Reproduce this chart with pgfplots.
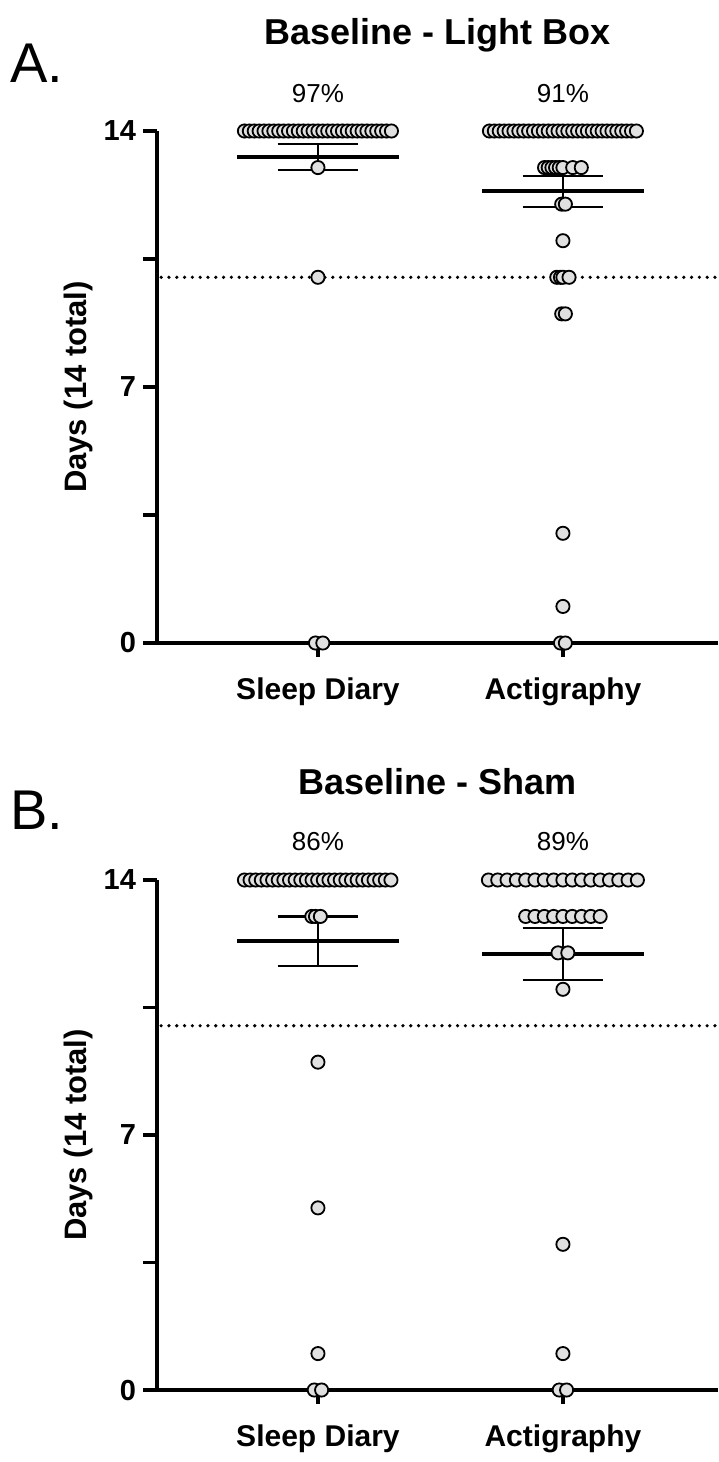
\documentclass[border=0pt]{standalone}
\usepackage{fontspec}
\setmainfont{Liberation Sans}
\usepackage{pgfplots}
\pgfplotsset{compat=1.18}
\definecolor{dotfill}{HTML}{E0E0E0}

\pgfplotsset{
  dotplot/.style={
    scale only axis, width=280.5pt,
    xmin=0.343, xmax=2.633, ymin=0, ymax=14,
    axis x line=bottom, axis y line=left,
    axis line style={-, line width=1.6pt},
    xtick={1,2}, xticklabels={Sleep Diary, Actigraphy},
    ytick={0,7,14}, minor ytick={3.5,10.5},
    tick align=outside, major tick length=7pt, minor tick length=7pt,
    every tick/.style={black, line width=1.6pt},
    yticklabel style={font=\bfseries\fontsize{14.5}{15}\selectfont},
    xticklabel style={font=\bfseries\fontsize{15}{16}\selectfont, yshift=-7pt},
    /pgf/number format/assume math mode=true,
    ylabel={Days (14 total)},
    ylabel style={font=\bfseries\fontsize{15.5}{16}\selectfont,
      at={(axis description cs:-0.14,0.5)}, anchor=center},
    clip=false,
  },
  pts/.style={only marks, mark=*, mark size=3.3pt,
    mark options={fill=dotfill, draw=black, line width=0.9pt}},
  meanline/.style={black, line width=1.8pt, no marks},
  semline/.style={black, line width=1.1pt, no marks, unbounded coords=jump},
  cutoff/.style={black, line width=1.8pt, line cap=round,
    dash pattern=on 0pt off 3.9pt, no marks},
}
\tikzset{
  ttl/.style={font=\bfseries\fontsize{18}{20}\selectfont, anchor=base},
  pct/.style={font=\fontsize{13}{15}\selectfont, anchor=base},
  panel/.style={font=\fontsize{28}{30}\selectfont, anchor=center},
}

\begin{document}
\begin{tikzpicture}
\path[use as bounding box] (0,0) rectangle (359pt,-731pt);

% ---------- A: Baseline - Light Box ----------
\begin{axis}[dotplot, height=256pt, at={(78.5pt,-321.5pt)}, anchor=south west]
\addplot[cutoff] coordinates {(0.36,10) (2.633,10)};

% mean and SEM
\addplot[meanline] coordinates {(0.67,13.29) (1.33,13.29)};
\addplot[semline] coordinates {(0.835,13.64) (1.165,13.64) (nan,nan) (1,13.64) (1,12.93) (nan,nan) (0.835,12.93) (1.165,12.93)};
\addplot[meanline] coordinates {(1.67,12.36) (2.33,12.36)};
\addplot[semline] coordinates {(1.835,12.78) (2.165,12.78) (nan,nan) (2,12.78) (2,11.93) (nan,nan) (1.835,11.93) (2.165,11.93)};

% sleep diary
\addplot[pts] coordinates {
 (0.70,14) (0.72,14) (0.74,14) (0.76,14) (0.78,14) (0.80,14) (0.82,14) (0.84,14)
 (0.86,14) (0.88,14) (0.90,14) (0.92,14) (0.94,14) (0.96,14) (0.98,14) (1.00,14)
 (1.02,14) (1.04,14) (1.06,14) (1.08,14) (1.10,14) (1.12,14) (1.14,14) (1.16,14)
 (1.18,14) (1.20,14) (1.22,14) (1.24,14) (1.26,14) (1.28,14) (1.30,14)
 (1.00,13) (1.00,10) (0.99,0) (1.02,0)};
% actigraphy
\addplot[pts] coordinates {
 (1.70,14) (1.72,14) (1.74,14) (1.76,14) (1.78,14) (1.80,14) (1.82,14) (1.84,14)
 (1.86,14) (1.88,14) (1.90,14) (1.92,14) (1.94,14) (1.96,14) (1.98,14) (2.00,14)
 (2.02,14) (2.04,14) (2.06,14) (2.08,14) (2.10,14) (2.12,14) (2.14,14) (2.16,14)
 (2.18,14) (2.20,14) (2.22,14) (2.24,14) (2.26,14) (2.28,14) (2.30,14)
 (1.925,13) (1.94,13) (1.955,13) (1.97,13) (1.985,13) (2.00,13) (2.04,13) (2.075,13)
 (1.995,12) (2.01,12) (2.00,11)
 (1.975,10) (1.99,10) (2.00,10) (2.025,10)
 (1.995,9) (2.01,9) (2.00,3) (2.00,1) (1.99,0) (2.01,0)};

\node[ttl, yshift=43.5pt] at (axis description cs:0.5,1) {Baseline - Light Box};
\node[pct, yshift=14.5pt] at (axis cs:1,14) {97\%};
\node[pct, yshift=14.5pt] at (axis cs:2,14) {91\%};
\node[panel, xshift=-60pt, yshift=34pt] at (axis description cs:0,1) {A.};
\end{axis}

% ---------- B: Baseline - Sham ----------
\begin{axis}[dotplot, height=255pt, at={(78.5pt,-695pt)}, anchor=south west]
\addplot[cutoff] coordinates {(0.36,10) (2.633,10)};

\addplot[meanline] coordinates {(0.67,12.33) (1.33,12.33)};
\addplot[semline] coordinates {(0.835,13.00) (1.165,13.00) (nan,nan) (1,13.00) (1,11.64) (nan,nan) (0.835,11.64) (1.165,11.64)};
\addplot[meanline] coordinates {(1.67,11.97) (2.33,11.97)};
\addplot[semline] coordinates {(1.835,12.68) (2.165,12.68) (nan,nan) (2,12.68) (2,11.25) (nan,nan) (1.835,11.25) (2.165,11.25)};

% sleep diary
\addplot[pts] coordinates {
 (0.700,14) (0.723,14) (0.746,14) (0.769,14) (0.792,14) (0.815,14) (0.838,14)
 (0.861,14) (0.884,14) (0.907,14) (0.930,14) (0.953,14) (0.976,14) (0.999,14)
 (1.022,14) (1.045,14) (1.068,14) (1.091,14) (1.114,14) (1.137,14) (1.160,14)
 (1.183,14) (1.206,14) (1.229,14) (1.252,14) (1.275,14) (1.298,14)
 (0.975,13) (0.99,13) (1.01,13)
 (1.00,9) (1.00,5) (1.00,1) (0.985,0) (1.015,0)};
% actigraphy
\addplot[pts] coordinates {
 (1.696,14) (1.734,14) (1.772,14) (1.810,14) (1.848,14) (1.886,14) (1.924,14)
 (1.962,14) (2.000,14) (2.038,14) (2.076,14) (2.114,14) (2.152,14) (2.190,14)
 (2.228,14) (2.266,14) (2.304,14)
 (1.848,13) (1.886,13) (1.924,13) (1.962,13) (2.000,13) (2.038,13) (2.076,13)
 (2.114,13) (2.152,13)
 (1.98,12) (2.02,12) (2.00,11) (2.00,4) (2.00,1) (1.985,0) (2.015,0)};

\node[ttl, yshift=43pt] at (axis description cs:0.5,1) {Baseline - Sham};
\node[pct, yshift=15pt] at (axis cs:1,14) {86\%};
\node[pct, yshift=15pt] at (axis cs:2,14) {89\%};
\node[panel, xshift=-60pt, yshift=35pt] at (axis description cs:0,1) {B.};
\end{axis}
\end{tikzpicture}
\end{document}
